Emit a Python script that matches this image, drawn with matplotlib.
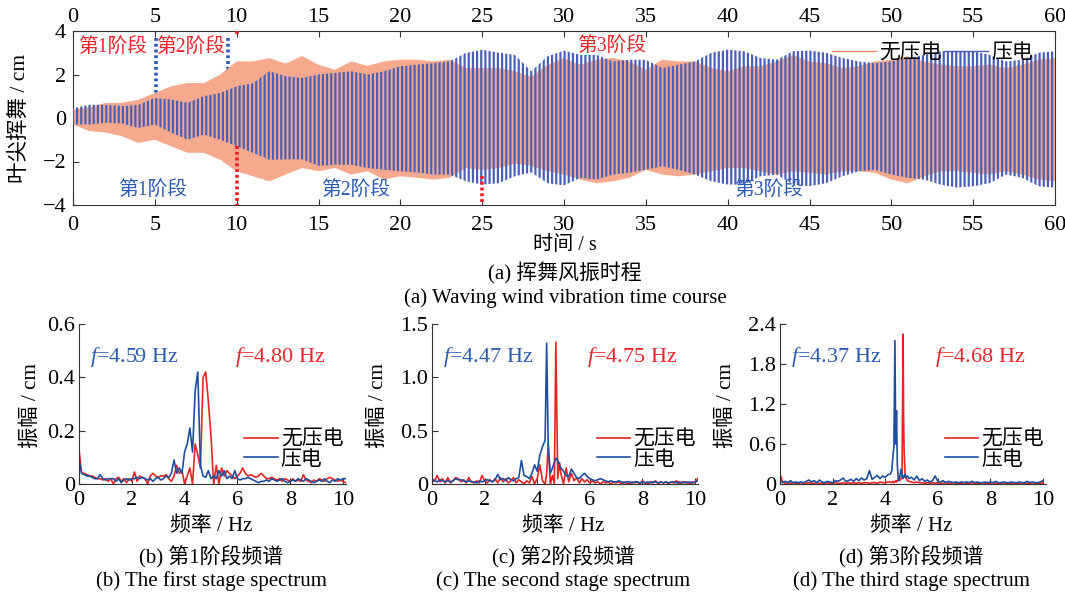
import numpy as np
import matplotlib
matplotlib.use('Agg')
import matplotlib.pyplot as plt
from matplotlib.lines import Line2D

plt.rcParams['font.family'] = ['Liberation Serif', 'Noto Sans CJK SC']
plt.rcParams['mathtext.fontset'] = 'custom'
plt.rcParams['mathtext.it'] = 'Liberation Serif:italic'
plt.rcParams['mathtext.rm'] = 'Liberation Serif'
plt.rcParams['hatch.linewidth'] = 1.6
plt.rcParams['axes.unicode_minus'] = True

# ---------------- (a) time course: envelopes ----------------
time_s = list(range(0, 61))
nopiezo_upper = [0.38, 0.5, 0.69, 0.7, 0.84, 1.15, 1.46, 1.61, 1.6, 2.0,
                 2.6, 2.6, 2.75, 2.5, 2.85, 2.45, 2.22, 2.6, 2.4, 2.6,
                 2.68, 2.68, 2.6, 2.68, 2.3, 2.3, 2.3, 2.15, 1.9, 2.45,
                 2.75, 2.45, 2.68, 2.76, 2.6, 2.22, 2.68, 2.6, 2.6, 2.3,
                 2.15, 2.38, 2.38, 2.6, 2.9, 2.6, 2.52, 2.3, 2.38, 2.6,
                 2.68, 2.84, 2.6, 2.45, 2.38, 2.38, 2.45, 2.3, 2.45, 2.68, 2.76]
nopiezo_lower = [-0.3, -0.6, -0.67, -0.84, -1.15, -1.0, -1.3, -1.6, -1.6, -1.92,
                 -2.45, -2.68, -2.91, -2.6, -2.3, -2.45, -2.3, -2.6, -2.45, -2.83,
                 -2.68, -2.75, -2.83, -2.75, -2.3, -2.4, -2.3, -2.1, -2.2, -2.45,
                 -2.6, -2.83, -3.0, -2.91, -2.75, -2.38, -2.6, -2.68, -2.6, -2.45,
                 -2.3, -2.3, -2.45, -2.6, -2.45, -2.52, -2.6, -2.45, -2.45, -2.52,
                 -2.83, -3.0, -2.68, -2.45, -2.45, -2.52, -2.6, -2.45, -2.6, -2.83, -2.91]
piezo_upper = [0.45, 0.61, 0.6, 0.55, 0.6, 0.92, 0.85, 0.7, 1.0, 1.15,
               1.46, 1.6, 2.15, 1.92, 1.84, 2.0, 2.07, 2.15, 2.0, 2.15,
               2.38, 2.45, 2.52, 2.6, 2.99, 3.14, 3.0, 2.9, 2.15, 2.84,
               3.1, 2.9, 2.9, 2.6, 2.68, 2.68, 2.3, 2.45, 2.6, 3.0,
               3.14, 3.07, 2.76, 2.68, 3.07, 3.1, 3.0, 2.76, 2.6, 2.52,
               2.6, 2.76, 2.9, 3.07, 3.07, 3.07, 2.9, 2.6, 2.68, 3.0, 3.07]
piezo_lower = [-0.3, -0.3, -0.22, -0.25, -0.46, -0.3, -0.67, -1.0, -0.76, -1.0,
               -1.3, -1.6, -1.92, -1.9, -1.9, -2.2, -2.15, -2.15, -2.3, -2.38,
               -2.45, -2.5, -2.6, -2.6, -2.91, -3.06, -3.0, -2.68, -2.5, -3.0,
               -3.1, -2.75, -2.83, -2.6, -2.52, -2.38, -2.22, -2.38, -2.6, -2.91,
               -3.06, -3.06, -2.68, -2.6, -3.06, -3.14, -3.0, -2.68, -2.45, -2.38,
               -2.6, -2.75, -2.83, -3.06, -3.2, -3.14, -3.0, -2.6, -2.75, -3.14, -3.2]

# stage boundary markers (time, y from, y to)
blue_bounds = [(5.1, 3.7, 0.9), (9.45, 3.7, 2.1)]
red_bounds = [(10.0, 4.0, 3.85), (10.0, -1.3, -4.0), (25.0, -2.68, -4.0)]

# stage labels (text, x, y)
red_stage_labels = [('第1阶段', 2.4, 3.2), ('第2阶段', 7.2, 3.2), ('第3阶段', 32.9, 3.25)]
blue_stage_labels = [('第1阶段', 4.85, -3.38), ('第2阶段', 17.3, -3.38), ('第3阶段', 42.5, -3.38)]

# ---------------- spectra ----------------
freq_b = [round(0.1 * i, 1) for i in range(102)]
nopiezo_b = [0.13, 0.04, 0.04, 0.035, 0.03, 0.03, 0.025, 0.02, 0.02, 0.015,
             0.02, 0.01, 0.02, 0.0, 0.02, 0.025, 0.01, 0.02, 0.005, 0.02,
             0.01, 0.045, 0.01, 0.03, 0.025, 0.02, 0.0, 0.03, 0.04, 0.03,
             0.025, 0.03, 0.03, 0.035, 0.02, 0.01, 0.03, 0.07, 0.04, 0.05,
             0.0, 0.03, 0.06, 0.0, 0.15, 0.11, 0.06, 0.4, 0.42, 0.31,
             0.18, 0.0, 0.07, 0.0, 0.06, 0.03, 0.05, 0.04, 0.03, 0.02,
             0.03, 0.04, 0.06, 0.04, 0.03, 0.035, 0.03, 0.025, 0.03, 0.04,
             0.03, 0.02, 0.02, 0.025, 0.02, 0.015, 0.02, 0.01, 0.02, 0.015,
             0.01, 0.02, 0.01, 0.015, 0.01, 0.035, 0.015, 0.01, 0.005, 0.015,
             0.01, 0.02, 0.015, 0.01, 0.02, 0.025, 0.02, 0.015, 0.01, 0.015,
             0.01, 0.005]
piezo_b = [0.09, 0.04, 0.035, 0.03, 0.03, 0.025, 0.02, 0.02, 0.035, 0.02,
           0.015, 0.02, 0.02, 0.02, 0.01, 0.02, 0.005, 0.015, 0.02, 0.015,
           0.02, 0.02, 0.025, 0.02, 0.025, 0.02, 0.015, 0.02, 0.01, 0.02,
           0.025, 0.015, 0.02, 0.03, 0.025, 0.04, 0.09, 0.04, 0.06, 0.04,
           0.12, 0.15, 0.21, 0.12, 0.35, 0.42, 0.07, 0.03, 0.025, 0.05,
           0.02, 0.03, 0.02, 0.05, 0.03, 0.05, 0.02, 0.03, 0.02, 0.05,
           0.02, 0.015, 0.02, 0.02, 0.025, 0.02, 0.015, 0.01, 0.005, 0.01,
           0.01, 0.015, 0.01, 0.02, 0.015, 0.01, 0.015, 0.02, 0.01, 0.005,
           0.01, 0.015, 0.01, 0.02, 0.015, 0.01, 0.02, 0.015, 0.01, 0.005,
           0.01, 0.015, 0.01, 0.02, 0.01, 0.005, 0.015, 0.01, 0.02, 0.015,
           0.02, 0.02]

freq_c = ([round(0.1 * i, 1) for i in range(44)]
          + [4.36, 4.42, 4.5, 4.58, 4.65, 4.71, 4.78, 4.85, 4.9]
          + [round(5.0 + 0.1 * i, 1) for i in range(52)])
nopiezo_c = [0.02, 0.03, 0.08, 0.02, 0.05, 0.01, 0.06, 0.01, 0.03, 0.06,
             0.05, 0.02, 0.04, 0.01, 0.06, 0.02, 0.01, 0.03, 0.01, 0.08,
             0.03, 0.01, 0.04, 0.02, 0.05, 0.01, 0.06, 0.02, 0.05, 0.01,
             0.03, 0.06, 0.01, 0.04, 0.02, 0.0, 0.03, 0.01, 0.07, 0.0,
             0.05, 0.18, 0.03, 0.0,
             0.1, 0.38, 0.0, 0.08, 0.0, 1.33, 0.05, 0.2, 0.1,
             0.0, 0.15, 0.02, 0.1, 0.03, 0.06, 0.01, 0.05, 0.02, 0.04,
             0.01, 0.03, 0.01, 0.02, 0.0, 0.02, 0.01, 0.02, 0.0, 0.02,
             0.01, 0.02, 0.0, 0.02, 0.01, 0.0, 0.02, 0.01, 0.02, 0.0,
             0.03, 0.01, 0.0, 0.02, 0.01, 0.03, 0.0, 0.02, 0.01, 0.02,
             0.0, 0.02, 0.01, 0.03, 0.0, 0.02, 0.01, 0.02, 0.0, 0.02,
             0.01, 0.05]
piezo_c = [0.05, 0.03, 0.02, 0.04, 0.03, 0.02, 0.03, 0.02, 0.03, 0.05,
           0.04, 0.04, 0.03, 0.02, 0.03, 0.02, 0.02, 0.01, 0.03, 0.02,
           0.03, 0.04, 0.03, 0.02, 0.04, 0.09, 0.04, 0.05, 0.03, 0.06,
           0.04, 0.03, 0.05, 0.06, 0.22, 0.08, 0.07, 0.05, 0.1, 0.18,
           0.12, 0.27, 0.35, 0.41,
           1.32, 0.35, 0.1, 0.15, 0.2, 0.24, 0.22, 0.18, 0.15,
           0.12, 0.08, 0.07, 0.14, 0.1, 0.06, 0.05, 0.08, 0.1, 0.07,
           0.05, 0.04, 0.03, 0.04, 0.05, 0.04, 0.03, 0.02, 0.03, 0.02,
           0.02, 0.03, 0.02, 0.01, 0.02, 0.02, 0.01, 0.02, 0.02, 0.01,
           0.02, 0.01, 0.02, 0.01, 0.02, 0.02, 0.01, 0.02, 0.01, 0.02,
           0.01, 0.02, 0.02, 0.01, 0.02, 0.01, 0.02, 0.01, 0.02, 0.01,
           0.02, 0.03]

freq_d = ([round(0.1 * i, 1) for i in range(42)]
          + [4.2, 4.25, 4.3, 4.33, 4.37, 4.4, 4.43, 4.46, 4.5, 4.55,
             4.6, 4.64, 4.68, 4.7, 4.72, 4.76, 4.8, 4.85, 4.9]
          + [round(5.0 + 0.1 * i, 1) for i in range(51)])
nopiezo_d = [0.15, 0.03, 0.01, 0.02, 0.01, 0.02, 0.01, 0.01, 0.02, 0.01,
             0.01, 0.02, 0.01, 0.01, 0.02, 0.01, 0.01, 0.01, 0.02, 0.01,
             0.01, 0.02, 0.01, 0.01, 0.02, 0.01, 0.02, 0.01, 0.02, 0.01,
             0.02, 0.01, 0.02, 0.02, 0.01, 0.02, 0.02, 0.01, 0.03, 0.02,
             0.02, 0.03,
             0.03, 0.02, 0.04, 0.02, 0.03, 0.05, 0.03, 0.05, 0.06, 0.05,
             0.08, 0.12, 2.25, 1.0, 0.5, 0.12, 0.08, 0.05, 0.04,
             0.03, 0.02, 0.03, 0.02, 0.02, 0.01, 0.02, 0.01, 0.02, 0.01,
             0.02, 0.01, 0.01, 0.02, 0.01, 0.01, 0.02, 0.01, 0.01, 0.01,
             0.02, 0.01, 0.01, 0.02, 0.01, 0.01, 0.01, 0.02, 0.01, 0.01,
             0.01, 0.02, 0.01, 0.01, 0.01, 0.02, 0.01, 0.01, 0.01, 0.02,
             0.01, 0.01, 0.02, 0.01, 0.01, 0.01, 0.02, 0.01, 0.01, 0.01,
             0.02]
piezo_d = [0.05, 0.02, 0.04, 0.02, 0.05, 0.02, 0.03, 0.02, 0.03, 0.02,
           0.04, 0.06, 0.03, 0.05, 0.02, 0.06, 0.03, 0.02, 0.04, 0.03,
           0.02, 0.05, 0.04, 0.06, 0.09, 0.04, 0.05, 0.07, 0.04, 0.08,
           0.05, 0.09, 0.06, 0.08, 0.2, 0.07, 0.1, 0.13, 0.08, 0.12,
           0.1, 0.14,
           0.15, 0.2, 0.45, 0.55, 2.15, 0.6, 1.1, 0.3, 0.05, 0.1,
           0.22, 0.15, 0.08, 0.12, 0.1, 0.15, 0.1, 0.12, 0.08,
           0.1, 0.06, 0.12, 0.05, 0.08, 0.04, 0.06, 0.03, 0.05, 0.12,
           0.04, 0.03, 0.05, 0.02, 0.04, 0.03, 0.02, 0.03, 0.02, 0.03,
           0.02, 0.03, 0.02, 0.04, 0.02, 0.03, 0.02, 0.02, 0.03, 0.02,
           0.03, 0.02, 0.04, 0.02, 0.02, 0.03, 0.02, 0.02, 0.03, 0.02,
           0.02, 0.03, 0.02, 0.02, 0.04, 0.02, 0.03, 0.02, 0.02, 0.03,
           0.05]

panel_peaks = [('4.59', '4.80'), ('4.47', '4.75'), ('4.37', '4.68')]
panel_ylims = [0.6, 1.5, 2.4]
panel_yticks = [[0, 0.2, 0.4, 0.6], [0, 0.5, 1.0, 1.5], [0, 0.6, 1.2, 1.8, 2.4]]
panel_yticklabels = [['0', '0.2', '0.4', '0.6'], ['0', '0.5', '1.0', '1.5'],
                     ['0', '0.6', '1.2', '1.8', '2.4']]
panel_caps_cn = ['(b) 第1阶段频谱', '(c) 第2阶段频谱', '(d) 第3阶段频谱']
panel_caps_en = ['(b) The first stage spectrum', '(c) The second stage spectrum',
                 '(d) The third stage spectrum']
series_names = ['无压电', '压电']

# ---------------- styling ----------------
ORANGE = '#f58a63'
ORANGE_FACE = '#f6a98c'
BLUE = '#4a60b8'
RED_TXT = '#e8262a'
BLUE_TXT = '#2b5cb0'
SPEC_RED = '#e52521'
SPEC_BLUE = '#1f4e9e'
SPINE = '#333333'
FS = 14.2       # CJK annotation text
TICK_FS = 16    # tick labels
CAP_FS = 15     # captions
LEG_FS = 15

fig = plt.figure(figsize=(10.65, 5.95), dpi=100)

ax = fig.add_axes([73 / 1065, 1 - 205 / 595, (1055 - 73) / 1065, 174 / 595])
ax.fill_between(time_s, nopiezo_lower, nopiezo_upper, facecolor=ORANGE_FACE,
                edgecolor='none', linewidth=0, zorder=2)
ax.fill_between(time_s, piezo_lower, piezo_upper, facecolor='none',
                edgecolor=BLUE, hatch='||||', linewidth=0, zorder=3)
for x, y0, y1 in blue_bounds:
    ax.plot([x, x], [y0, y1], color=BLUE_TXT, lw=2.6, ls=(0, (0.8, 0.8)), zorder=1)
for x, y0, y1 in red_bounds:
    ax.plot([x, x], [y0, y1], color='#ee1c24', lw=2.6, ls=(0, (0.8, 0.8)), zorder=5,
            clip_on=False)
for s, x, y in red_stage_labels:
    ax.text(x, y, s, color=RED_TXT, fontsize=FS, ha='center', va='center', zorder=6)
for s, x, y in blue_stage_labels:
    ax.text(x, y, s, color=BLUE_TXT, fontsize=FS, ha='center', va='center', zorder=6)
ax.set_xlim(0, 60)
ax.set_ylim(-4, 4)
ax.set_xticks(range(0, 61, 5))
ax.set_yticks([-4, -2, 0, 2, 4])
ax.tick_params(axis='x', direction='in', top=True, labeltop=False, labelsize=TICK_FS,
               length=4, color=SPINE, pad=8)
ax.tick_params(axis='y', direction='in', right=False, labelsize=TICK_FS,
               length=4, color=SPINE, pad=5)
secx = ax.secondary_xaxis('top')
secx.set_xticks(range(0, 61, 5))
secx.tick_params(direction='in', length=0, labelsize=TICK_FS, pad=3)
secx.spines['top'].set_visible(False)
for sp in ax.spines.values():
    sp.set_color(SPINE)
handles = [Line2D([], [], color=ORANGE, lw=1.0), Line2D([], [], color=BLUE, lw=1.0)]
ax.legend(handles, series_names, ncol=2, loc='upper right', frameon=False,
          fontsize=LEG_FS, handlelength=2.1, handletextpad=0.15, columnspacing=0.1,
          borderaxespad=0.2, bbox_to_anchor=(0.99, 1.0))

fig.text(20 / 1065, 1 - 118 / 595, '叶尖挥舞 / cm', rotation=90, ha='center',
         va='center', fontsize=15.5)
fig.text(565 / 1065, 1 - 246 / 595, '时间 / s', ha='center', va='center', fontsize=14.5)
fig.text(565 / 1065, 1 - 273 / 595, '(a) 挥舞风振时程', ha='center', va='center',
         fontsize=CAP_FS)
fig.text(565 / 1065, 1 - 298 / 595, '(a) Waving wind vibration time course', ha='center',
         va='center', fontsize=CAP_FS)

# ---------------- spectra panels ----------------
panel_px = [(79, 343), (432, 695), (780, 1043)]
ylab_x = [31, 378, 726]
spec_data = [(freq_b, nopiezo_b, piezo_b), (freq_c, nopiezo_c, piezo_c),
             (freq_d, nopiezo_d, piezo_d)]
for i in range(3):
    x0, x1 = panel_px[i]
    w10 = (x1 - x0)
    bax = fig.add_axes([x0 / 1065, 1 - 484 / 595, w10 * 1.01 / 1065, 160 / 595])
    fq, r, b = spec_data[i]
    bax.plot(fq, r, color=SPEC_RED, lw=1.2, label=series_names[0])
    bax.plot(fq, b, color=SPEC_BLUE, lw=1.2, label=series_names[1])
    bax.set_xlim(0, 10.1)
    bax.set_ylim(0, panel_ylims[i])
    bax.set_xticks([0, 2, 4, 6, 8, 10])
    bax.set_yticks(panel_yticks[i])
    bax.set_yticklabels(panel_yticklabels[i])
    bax.spines['top'].set_visible(False)
    bax.spines['right'].set_visible(False)
    for sp in ('left', 'bottom'):
        bax.spines[sp].set_color(SPINE)
    bax.tick_params(axis='x', direction='in', labelsize=TICK_FS, length=4, color=SPINE,
                    pad=5)
    bax.tick_params(axis='y', direction='in', labelsize=TICK_FS, length=4, color=SPINE,
                    pad=3)
    bf, rf = panel_peaks[i]
    bax.text(0.04, 0.795, r'$\mathit{f}$=' + bf + ' Hz', transform=bax.transAxes,
             color=BLUE_TXT, fontsize=16, ha='left', va='center')
    bax.text(0.585, 0.795, r'$\mathit{f}$=' + rf + ' Hz', transform=bax.transAxes,
             color=RED_TXT, fontsize=16, ha='left', va='center')
    bax.legend(loc='upper left', bbox_to_anchor=(0.62, 0.335), frameon=False,
               fontsize=LEG_FS, handlelength=1.6, handletextpad=0.15, borderpad=0,
               borderaxespad=0, labelspacing=0.0)
    cx = (x0 + x1) / 2 / 1065
    fig.text(ylab_x[i] / 1065, 1 - 405 / 595, '振幅 / cm', rotation=90, ha='center',
             va='center', fontsize=15.3)
    fig.text(cx, 1 - 526 / 595, '频率 / Hz', ha='center', va='center', fontsize=15)
    fig.text(cx, 1 - 557 / 595, panel_caps_cn[i], ha='center', va='center', fontsize=CAP_FS)
    fig.text(cx, 1 - 581 / 595, panel_caps_en[i], ha='center', va='center', fontsize=CAP_FS)

fig.savefig('out.png', dpi=100)
